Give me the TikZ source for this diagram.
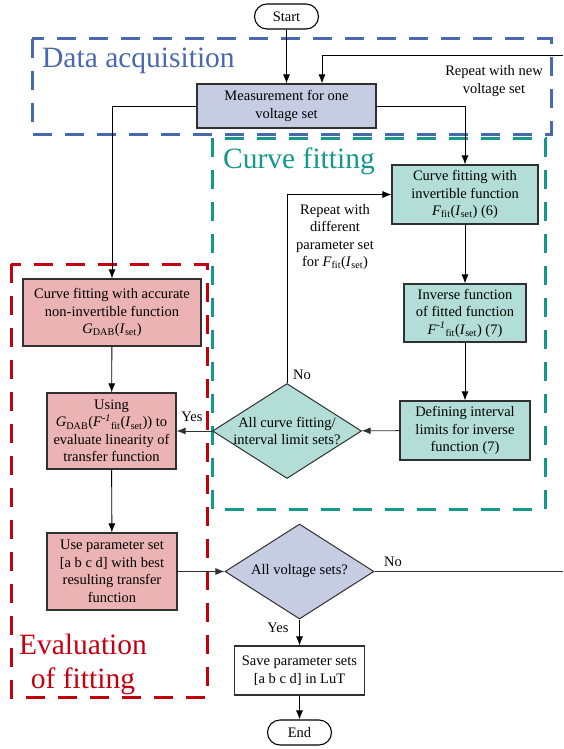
\documentclass[tikz,border=0pt]{standalone}
\usepackage{fontspec}
\setmainfont{Liberation Serif}
\usetikzlibrary{arrows.meta,shapes.geometric}
\definecolor{grpblue}{HTML}{4A68B0}
\definecolor{grpteal}{HTML}{12998A}
\definecolor{grpred}{HTML}{C40010}
\definecolor{fillblue}{HTML}{C6CCE2}
\definecolor{fillteal}{HTML}{B2DED7}
\definecolor{fillred}{HTML}{EBB3B3}
\definecolor{linegray}{HTML}{303030}
\newcommand{\Ffit}{\textit{F}\textsubscript{fit}(\textit{I}\textsubscript{set})}
\newcommand{\Finv}{\textit{F}\textsuperscript{\textit{-1}}\textsubscript{fit}(\textit{I}\textsubscript{set})}
\newcommand{\Gdab}{\textit{G}\textsubscript{DAB}}
\begin{document}
\begin{tikzpicture}[x=1pt,y=-1pt,
  txt/.style={font=\fontsize{14.5}{17.5}\selectfont, align=center, inner sep=0pt},
  procbox/.style={txt, draw=linegray, line width=1.1pt},
  term/.style={procbox, draw=black, rounded corners=12.5pt, minimum width=64pt, minimum height=25pt},
  dia/.style={diamond, draw=linegray, line width=1pt, inner sep=0pt, minimum width=149pt, minimum height=95pt},
  arr/.style={linegray, line width=0.9pt, -{Latex[length=9pt,width=7pt]}},
  conn/.style={linegray, line width=0.9pt},
  grp/.style={line width=3pt, dash pattern=on 19pt off 13pt},
  title/.style={font=\fontsize{29.5}{34}\selectfont, inner sep=0pt}
]
\useasboundingbox (0,0) rectangle (563,749);

% group frames
\draw[grp, grpblue] (32,39) rectangle (551,134);
\draw[grp, grpteal] (212,138) rectangle (545,509);
\draw[grp, grpred] (11,264) rectangle (207,697);

\node[title, text=grpblue, anchor=base west] (tda) at (42,68) {Data acquisition};
\node[title, text=grpteal, anchor=base west] (tcf) at (223,168) {Curve fitting};
\node[title, text=grpred, align=center, anchor=base] (tev) at (83,688) {Evaluation\\of fitting};

% nodes
\node[term] (start) at (286.5,16.5) {Start};
\node[procbox, fill=fillblue, minimum width=179pt, minimum height=44pt] (meas) at (286.5,106) {Measurement for one\\voltage set};
\node[procbox, fill=fillteal, minimum width=146pt, minimum height=59pt] (inv) at (465,194.5) {Curve fitting with\\invertible function\\\Ffit{} (6)};
\node[procbox, fill=fillteal, minimum width=122pt, minimum height=58pt] (inve) at (465,313) {Inverse function\\of fitted function\\\Finv{} (7)};
\node[procbox, fill=fillteal, minimum width=130pt, minimum height=59pt] (defi) at (465,430.5) {Defining interval\\limits for inverse\\function (7)};
\node[dia, fill=fillteal] (d1) at (287,431) {};
\node[txt] (d1t) at (287,431) {All curve fitting/\\interval limit sets?};
\node[procbox, fill=fillred, minimum width=178pt, minimum height=67pt] (acc) at (112,312.5) {Curve fitting with accurate\\non-invertible function\\\Gdab(\textit{I}\textsubscript{set})};
\node[procbox, fill=fillred, minimum width=129pt, minimum height=76pt] (using) at (111.5,431) {Using\\\Gdab(\Finv) to\\evaluate linearity of\\transfer function};
\node[procbox, fill=fillred, minimum width=130pt, minimum height=77pt] (use) at (112,571.5) {Use parameter set\\{}[a b c d] with best\\resulting transfer\\function};
\node[dia, fill=fillblue] (d2) at (299.5,571.5) {};
\node[txt] (d2t) at (299.5,571.5) {All voltage sets?};
\node[procbox, fill=white, minimum width=130pt, minimum height=49pt] (save) at (299.5,670.5) {Save parameter sets\\{}[a b c d] in LuT};
\node[term] (end) at (299.5,732.5) {End};

% free ends
\coordinate (rin) at (563,55);
\coordinate (rout) at (563,571.5);

% connectors
\draw[arr, black] (start) -- (meas);
\draw[arr, black] (rin) -| ([xshift=35.5pt]meas.north);
\draw[arr, black] (meas.west) -| (acc.north);
\draw[arr, black] (meas.east) -| (inv.north);
\draw[arr, black] (inv) -- (inve);
\draw[arr, black] (inve) -- (defi);
\draw[arr] (defi) -- (d1);
\draw[arr, black] (d1.north) |- (inv.west);
\draw[arr] (d1.west) -- (using.east);
\draw[arr, black] (acc) -- (using);
\draw[arr, black] (using) -- (use);
\draw[arr] (use) -- (d2);
\draw[conn] (d2.east) -- (rout);
\draw[arr, black] (d2) -- (save);
\draw[arr, black] (save) -- (end);

% labels
\node[txt] (lrep1) at (494,81) {Repeat with new\\voltage set};
\node[txt] (lrep2) at (335,237) {Repeat with\\different\\parameter set\\for \Ffit};
\node[txt] (lno1) at (302,375) {No};
\node[txt] (lyes1) at (192,417) {Yes};
\node[txt] (lno2) at (393,562) {No};
\node[txt] (lyes2) at (278,628) {Yes};
\end{tikzpicture}
\end{document}
